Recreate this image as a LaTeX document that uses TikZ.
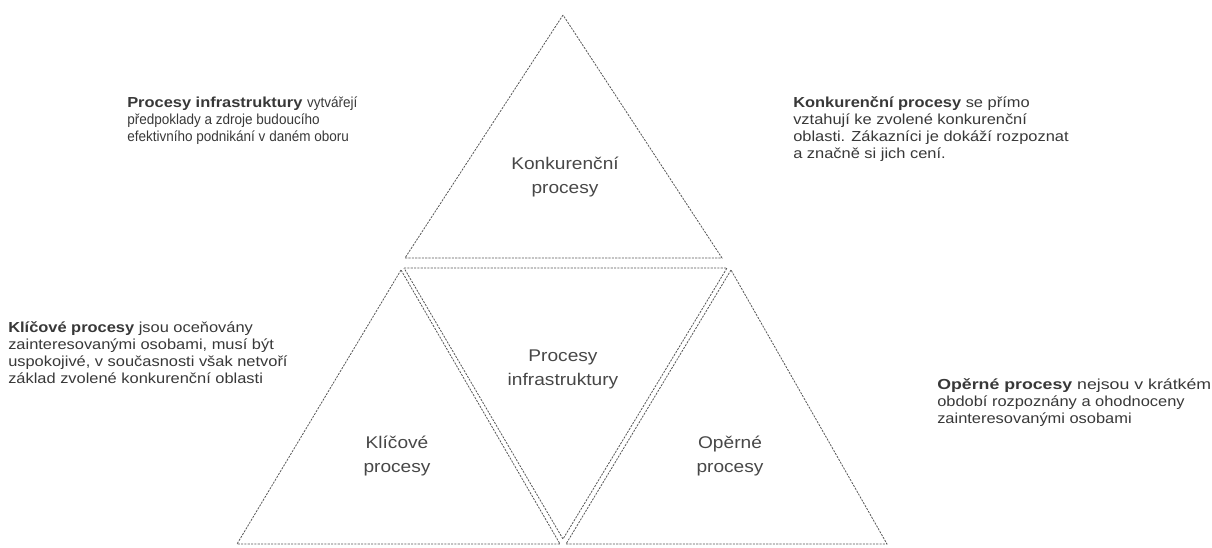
\documentclass[tikz,border=0pt]{standalone}
\usepackage{fontspec}
\setmainfont[FakeStretch=1.13]{Liberation Sans}
\newfontfamily\condfont[FakeStretch=0.93]{Liberation Sans}
\newfontfamily\widefont[FakeStretch=1.22]{Liberation Sans}
\begin{document}
\begin{tikzpicture}[x=0.75pt,y=-0.75pt,
  edge/.style={draw=black!66,line width=0.6pt,dash pattern=on 1.6pt off 0.9pt,line join=miter},
  note/.style={inner sep=0pt,anchor=base west,align=left,text=black!78,
    font=\fontsize{10.9}{12.75}\selectfont},
  label/.style={inner sep=0pt,align=center,text=black!72,
    font=\fontsize{12.7}{18}\selectfont}]
\useasboundingbox (0,0) rectangle (1212,547);

% corner points of the four triangles
\coordinate (tA) at (563,15);
\coordinate (tB) at (405,258);
\coordinate (tC) at (722,258);
\coordinate (iA) at (404,268);
\coordinate (iB) at (727,268);
\coordinate (iC) at (563,539);
\coordinate (lA) at (401,270);
\coordinate (lB) at (237,544);
\coordinate (lC) at (560,544);
\coordinate (rA) at (731,270);
\coordinate (rB) at (566,544);
\coordinate (rC) at (887,544);

% triangles
\draw[edge] (tA) -- (tB) -- (tC) -- cycle;
\draw[edge] (iA) -- (iB) -- (iC) -- cycle;
\draw[edge] (lA) -- (lB) -- (lC) -- cycle;
\draw[edge] (rA) -- (rB) -- (rC) -- cycle;

% labels inside the triangles
\node[label] (konk) at (565,177) {Konkurenční\\procesy};
\node[label] (infra) at (563,369) {Procesy\\infrastruktury};
\node[label] (klic) at (397,456) {Klíčové\\procesy};
\node[label] (oper) at (730,456) {Opěrné\\procesy};

% explanatory notes (anchored at the baseline of the last line)
\node[note] (n1) at (127,141) {\textbf{Procesy infrastruktury} {\condfont vytvářejí}\\
{\condfont předpoklady a zdroje budoucího}\\
{\condfont efektivního podnikání v daném oboru}};
\node[note] (n2) at (793,158) {\textbf{Konkurenční procesy} se přímo\\
vztahují ke zvolené konkurenční\\
oblasti. Zákazníci je dokáží rozpoznat\\
a značně si jich cení.};
\node[note] (n3) at (8,383) {\textbf{Klíčové procesy} jsou oceňovány\\
zainteresovanými osobami, musí být\\
uspokojivé, v současnosti však netvoří\\
základ zvolené konkurenční oblasti};
\node[note] (n4) at (937,423) {\widefont\textbf{Opěrné procesy} nejsou v krátkém\\
období rozpoznány a ohodnoceny\\
zainteresovanými osobami};
\end{tikzpicture}
\end{document}
